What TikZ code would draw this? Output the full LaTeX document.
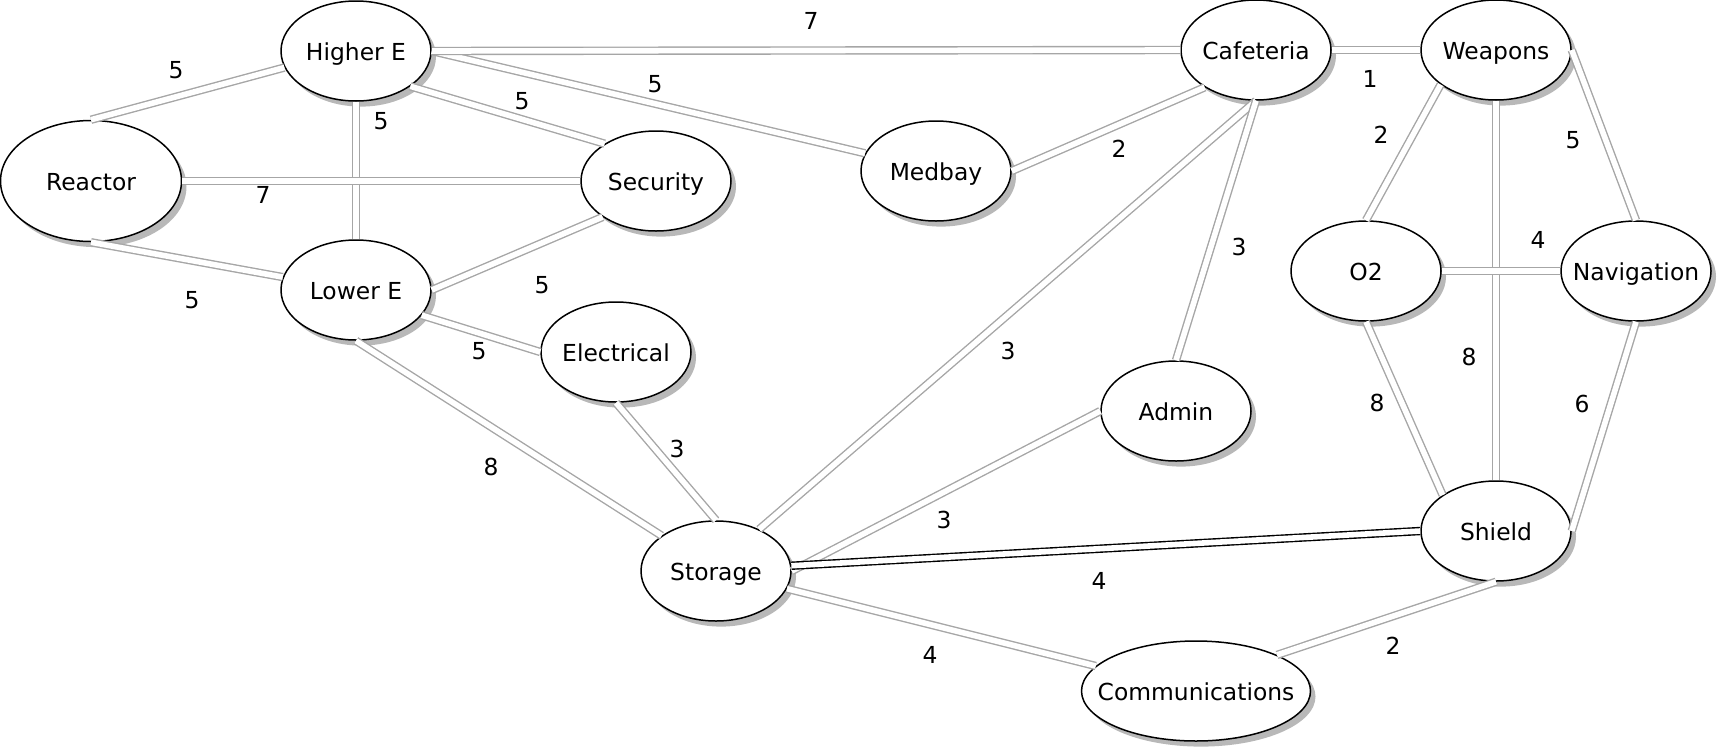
\documentclass[tikz,border=0pt]{standalone}
\usepackage{fontspec}
\setmainfont{DejaVu Sans}
\usepackage{tikz}
\usetikzlibrary{shapes.geometric}
\usetikzlibrary{shadows}
\tikzset{
  room/.style={ellipse, draw=black, line width=0.75pt, fill=white, inner sep=0pt,
    minimum width=75pt, minimum height=50pt,
    drop shadow={shadow xshift=2.5pt, shadow yshift=-2.8pt, fill=black!28, opacity=1}},
  corridor/.style={draw=black!35, line width=0.7pt, double=white, double distance=2.8pt},
  weight/.style={inner sep=0pt}
}
\newcommand{\room}[5][]{\node[room,#1] (#2) at (#3,#4) {\makebox[0pt]{\raisebox{-4.6pt}[0pt][0pt]{#5}}};}
\newcommand{\corridor}[3][]{\draw[corridor,#1] (#2) -- (#3);}
\newcommand{\weight}[4]{\node[weight] (#1) at (#2,#3) {#4};}

\begin{document}
\begin{tikzpicture}[x=0.5pt, y=-0.5pt, font=\fontsize{11.7}{14}\selectfont]
        \useasboundingbox (0,0) rectangle (1718,750);
        % rooms
        \room{highere}{356}{51}{Higher E}
        \room[minimum width=90.5pt, minimum height=60.5pt]{reactor}{91}{181}{Reactor}
        \room{security}{656}{181}{Security}
        \room{lowere}{356}{290}{Lower E}
        \room{electrical}{616}{352}{Electrical}
        \room{medbay}{936}{171}{Medbay}
        \room{cafeteria}{1256}{50}{Cafeteria}
        \room{weapons}{1496}{50}{Weapons}
        \room{otwo}{1366}{271}{O2}
        \room{navigation}{1636}{271}{Navigation}
        \room{admin}{1176}{411}{Admin}
        \room{storage}{716}{571}{Storage}
        \room{shield}{1496}{531}{Shield}
        \room[minimum width=114.5pt]{comms}{1196}{691}{Communications}
        % corridors, left part
        \corridor{reactor.north}{highere.193}
        \corridor{highere.south}{lowere.north}
        \corridor{highere.327}{security.144}
        \corridor{highere.east}{medbay.166}
        \corridor{highere.east}{cafeteria.west}
        \corridor{reactor.east}{security.west}
        \corridor{reactor.south}{lowere.170}
        \corridor{lowere.east}{security.214}
        \corridor{lowere.339}{electrical.west}
        \corridor{lowere.south}{storage.147}
        \corridor{electrical.south}{storage.north}
        % corridors, middle part
        \corridor{medbay.east}{cafeteria.216}
        \corridor{storage.44}{cafeteria.south}
        \corridor{admin.north}{cafeteria.south}
        \corridor{storage.east}{admin.west}
        \corridor[draw=black]{storage.4}{shield.west}
        \corridor{storage.346}{comms.166}
        % corridors, right part
        \corridor{cafeteria.east}{weapons.west}
        \corridor{weapons.212}{otwo.north}
        \corridor{weapons.south}{shield.north}
        \corridor{weapons.east}{navigation.north}
        \corridor{otwo.east}{navigation.west}
        \corridor{otwo.south}{shield.146}
        \corridor{navigation.south}{shield.east}
        \corridor{shield.south}{comms.24}
        % weights
        \weight{w1}{176}{70}{5}
        \weight{w2}{381}{121}{5}
        \weight{w3}{522}{101}{5}
        \weight{w4}{655}{84}{5}
        \weight{w5}{811}{21}{7}
        \weight{w6}{263}{195}{7}
        \weight{w7}{192}{300}{5}
        \weight{w8}{542}{285}{5}
        \weight{w9}{479}{351}{5}
        \weight{w10}{491}{467}{8}
        \weight{w11}{677}{449}{3}
        \weight{w12}{1119}{149}{2}
        \weight{w13}{1008}{351}{3}
        \weight{w14}{1239}{247}{3}
        \weight{w15}{1370}{79}{1}
        \weight{w16}{1381}{135}{2}
        \weight{w17}{1469}{357}{8}
        \weight{w18}{1573}{140}{5}
        \weight{w19}{1538}{240}{4}
        \weight{w20}{1377}{403}{8}
        \weight{w21}{1582}{404}{6}
        \weight{w22}{944}{520}{3}
        \weight{w23}{1099}{581}{4}
        \weight{w24}{930}{655}{4}
        \weight{w25}{1393}{646}{2}
\end{tikzpicture}
\end{document}
